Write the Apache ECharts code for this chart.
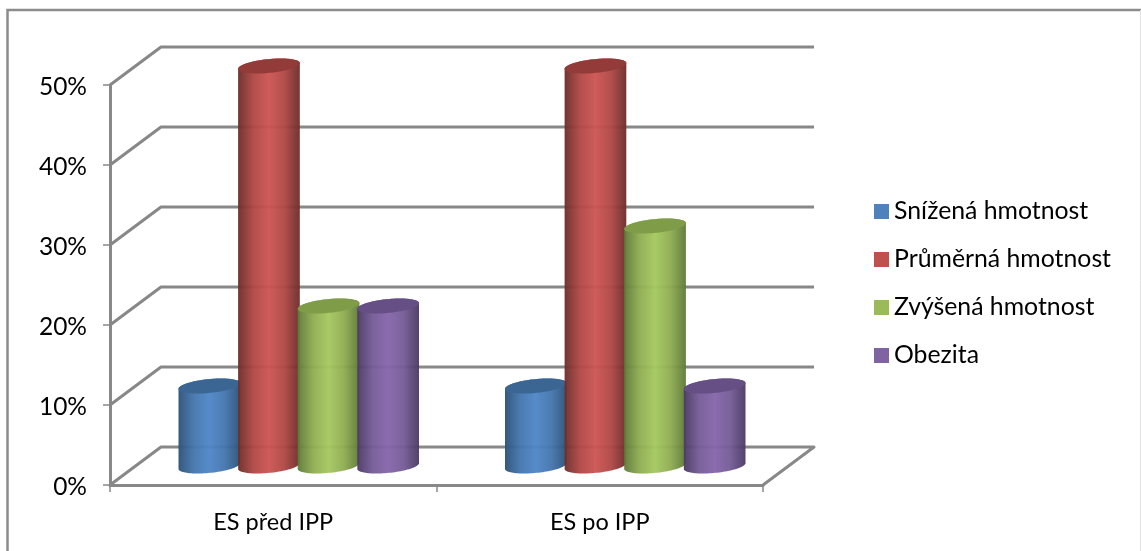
<!DOCTYPE html>
<html>
<head>
<meta charset="utf-8">
<script src="https://cdn.jsdelivr.net/npm/echarts@6/dist/echarts.min.js"></script>
<style>html,body{margin:0;padding:0;background:#fff}#c{width:1141px;height:551px}</style>
</head>
<body>
<div id="c"></div>
<script>
const categories = ['ES před IPP', 'ES po IPP'];
const valueTicks = [0, 10, 20, 30, 40, 50];
const seriesNames = ['Snížená hmotnost', 'Průměrná hmotnost', 'Zvýšená hmotnost', 'Obezita'];
const snizena = [10, 10];
const prumerna = [50, 50];
const zvysena = [20, 30];
const obezita = [20, 10];
const allValues = [snizena, prumerna, zvysena, obezita];

// Shading per series: legend colour, cylinder edge, shoulder, centre, top cap
const swatch = ['#4F81BD', '#C0504D', '#9BBB59', '#8064A2'];
const edge = ['#2C5278', '#6C2D2B', '#5F7A37', '#4C3A64'];
const shoulder = ['#4576AE', '#B04846', '#8FAD52', '#755C97'];
const centre = ['#4F86C8', '#CC5553', '#A5C860', '#8666AB'];
const cap = ['#3B6694', '#923B39', '#7F9C48', '#664F84'];

const DEPTH_X = 51, DEPTH_Y = -38;   // offset of the back wall from the front plane
const SLOT = 59.6, RX = 31, RY = 6.9, TILT = -5.6 * Math.PI / 180;
const AXIS_GREY = '#888888';

function ellipsePoint(cx, cy, t) {
  const x = RX * Math.cos(t), y = RY * Math.sin(t);
  return [cx + x * Math.cos(TILT) - y * Math.sin(TILT),
          cy + x * Math.sin(TILT) + y * Math.cos(TILT)];
}
function arc(cx, cy, from, to) {
  const pts = [];
  for (let i = 0; i <= 48; i++) pts.push(ellipsePoint(cx, cy, from + (to - from) * i / 48));
  return pts;
}

// One cylinder standing half way into the floor's depth
function cylinder(seriesIndex) {
  return function (params, api) {
    const base = api.coord([api.value(0), 0]);
    const top = api.coord([api.value(0), api.value(1)]);
    const cx = base[0] + DEPTH_X / 2 + (seriesIndex - 1.5) * SLOT;
    const yBase = base[1] + DEPTH_Y / 2;
    const yTop = top[1] + DEPTH_Y / 2;
    const body = arc(cx, yBase, Math.PI, 0).concat(arc(cx, yTop, 0, -Math.PI));
    return {
      type: 'group',
      children: [
        { type: 'polygon', shape: { points: body },
          style: { opacity: 0.96, fill: new echarts.graphic.LinearGradient(0, 0, 1, 0, [
            { offset: 0, color: edge[seriesIndex] },
            { offset: 0.25, color: shoulder[seriesIndex] },
            { offset: 0.5, color: centre[seriesIndex] },
            { offset: 0.75, color: shoulder[seriesIndex] },
            { offset: 1, color: edge[seriesIndex] }
          ]) } },
        { type: 'polygon', shape: { points: arc(cx, yTop, 0, 2 * Math.PI) },
          style: { fill: cap[seriesIndex] } }
      ]
    };
  };
}

// Side-wall and back-wall gridlines for one axis tick
function wallLines(params, api) {
  const sys = params.coordSys;
  const left = sys.x, right = sys.x + sys.width;
  const y = api.coord([0, api.value(1)])[1];
  const points = [[left, y], [left + DEPTH_X, y + DEPTH_Y], [right + DEPTH_X, y + DEPTH_Y]];
  if (api.value(1) === 0) points.push([right, y]);
  return { type: 'polyline', shape: { points: points },
           style: { stroke: AXIS_GREY, lineWidth: 3, lineJoin: 'round', fill: null } };
}

const series = [{
  type: 'custom', name: 'walls', z: 1, silent: true,
  data: valueTicks.map(v => [0, v]),
  encode: { x: 0, y: 1 },
  renderItem: wallLines
}];
seriesNames.forEach((name, i) => series.push({
  type: 'custom', name: name, z: 3 + i,
  itemStyle: { color: swatch[i] },
  data: allValues[i].map((v, c) => [c, v]),
  encode: { x: 0, y: 1 },
  renderItem: cylinder(i)
}));

const font = 'Lato';
const chart = echarts.init(document.getElementById('c'), null, { renderer: 'canvas' });
chart.setOption({
  animation: false,
  backgroundColor: '#fff',
  graphic: [
    { type: 'polyline', z: 0, silent: true,
      shape: { points: [[7.5, 551], [7.5, 10], [1141, 10]] },
      style: { stroke: '#8C8C8C', lineWidth: 2.5, fill: null } },
    { type: 'line', z: 0, silent: true,
      shape: { x1: 1140.5, y1: 10, x2: 1140.5, y2: 551 },
      style: { stroke: '#E0E0E0', lineWidth: 1 } }
  ],
  grid: { left: 110, top: 85, width: 653, height: 400, containLabel: false },
  xAxis: {
    type: 'category', data: categories,
    axisLine: { lineStyle: { color: AXIS_GREY, width: 3 } },
    axisTick: { show: true, length: 7, lineStyle: { color: AXIS_GREY, width: 1.5 } },
    axisLabel: { color: '#000', fontFamily: font, fontSize: 23.5, margin: 25 },
    splitLine: { show: false }
  },
  yAxis: {
    type: 'value', min: 0, max: 50, interval: 10,
    axisLine: { show: true, lineStyle: { color: AXIS_GREY, width: 3 } },
    axisTick: { show: true, length: 7, lineStyle: { color: AXIS_GREY, width: 1.5 } },
    axisLabel: { color: '#000', fontFamily: font, fontSize: 24.5, margin: 23, verticalAlign: 'top', lineHeight: 4, formatter: '{value}%' },
    splitLine: { show: false }
  },
  legend: {
    orient: 'vertical', left: 869, top: 194,
    data: seriesNames,
    icon: 'rect', itemWidth: 15, itemHeight: 15, itemGap: 23,
    selectedMode: false,
    textStyle: { color: '#000', fontFamily: font, fontSize: 24.8 }
  },
  series: series
});
</script>
</body>
</html>
